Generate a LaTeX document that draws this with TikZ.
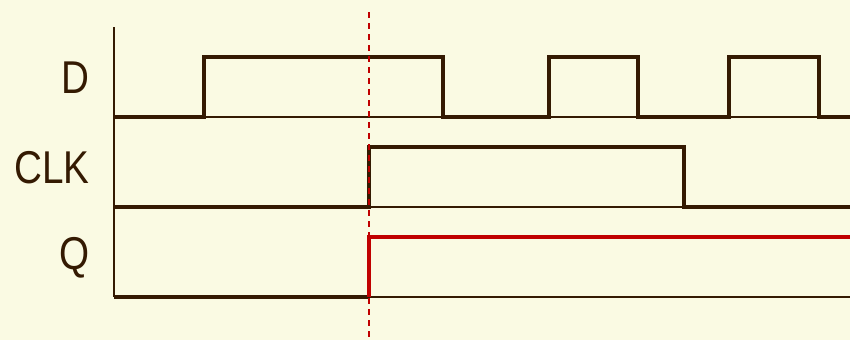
\documentclass[tikz,border=0pt]{standalone}
\usepackage{fontspec}
\newfontfamily\sigfont[FakeStretch=0.84]{Liberation Sans}
\definecolor{paper}{HTML}{FAFAE3}
\definecolor{ink}{HTML}{341A02}
\definecolor{edgered}{HTML}{C00000}
\tikzset{
  wave/.style={ink, line width=3.2pt, line join=miter},
  base/.style={ink, line width=1.4pt},
  siglabel/.style={ink, anchor=east, font=\sigfont\fontsize{46}{50}\selectfont}
}
\begin{document}
\begin{tikzpicture}[x=1pt,y=-1pt]
  \fill[paper] (0,0) rectangle (850,340);
  \useasboundingbox (0,0) rectangle (850,340);
  % axis and baselines
  \draw[ink, line width=2pt] (114,27) -- (114,297);
  \draw[base] (114,117) -- (850,117);
  \draw[base] (114,207) -- (850,207);
  \draw[base] (114,297) -- (850,297);
  % signal names
  \node[siglabel] (d) at (93,78) {D};
  \node[siglabel] (clk) at (93,168) {CLK};
  \node[siglabel] (q) at (93,258) {Q};
  % D input
  \draw[wave] (114,117) -- (204,117) -- (204,57) -- (443,57) -- (443,117)
    -- (549,117) -- (549,57) -- (638,57) -- (638,117)
    -- (729,117) -- (729,57) -- (819,57) -- (819,117) -- (850,117);
  % clock
  \draw[wave] (114,207) -- (369,207) -- (369,147) -- (684,147) -- (684,207) -- (850,207);
  % output
  \draw[wave] (114,297) -- (369,297);
  \draw[wave, edgered] (369,297) -- (369,237) -- (850,237);
  % rising clock edge
  \draw[edgered, line width=1.6pt, dash pattern=on 6pt off 5pt] (369,12) -- (369,340);
\end{tikzpicture}
\end{document}
